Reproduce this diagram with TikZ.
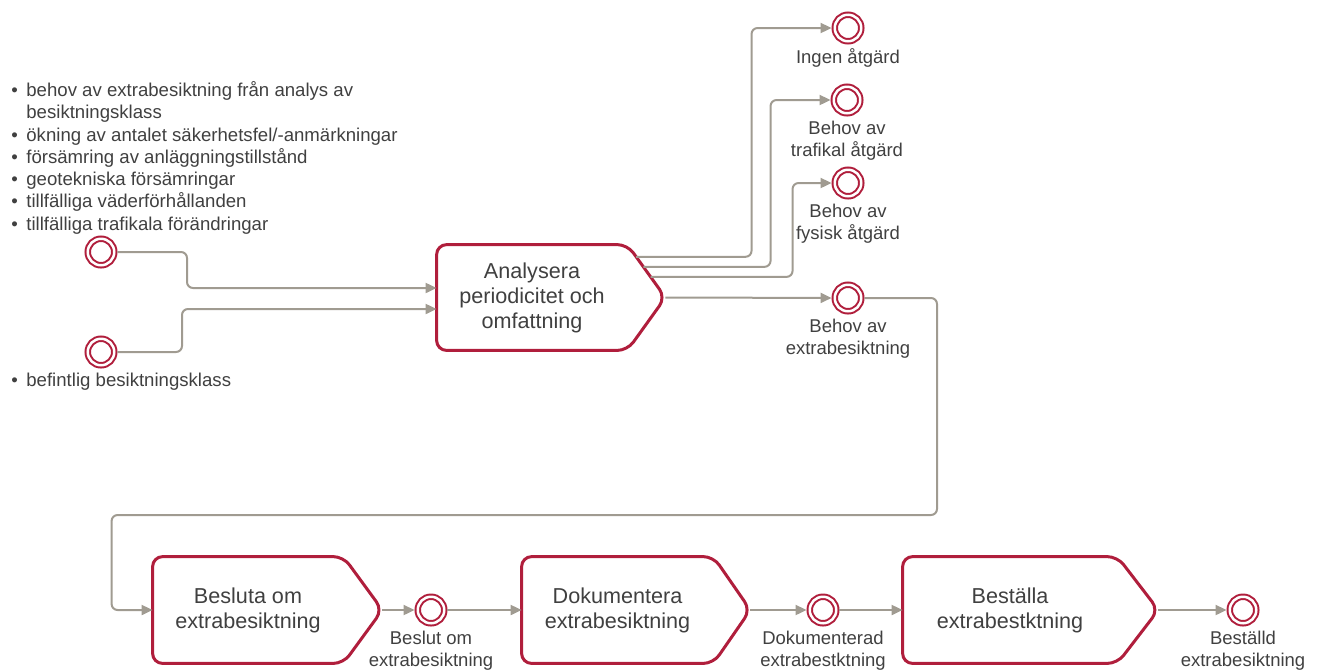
\documentclass[tikz,border=0pt]{standalone}
\usepackage{fontspec}
\setmainfont{Liberation Sans}
\usetikzlibrary{positioning, calc, arrows.meta}
\definecolor{procred}{HTML}{B01E3C}
\definecolor{flowgray}{HTML}{A09B91}
\definecolor{txtgray}{HTML}{404040}
\tikzset{
  x=0.5pt, y=-0.5pt,
  >={Triangle[length=5.5pt,width=5pt]},
  proc/.style={minimum height=52.5pt, inner sep=0pt, align=center,
    text=txtgray, font=\fontsize{10.8}{12.5}\selectfont},
  procline/.style={draw=procred, line width=1.5pt, rounded corners=5pt},
  event/.style={circle, draw=procred, double=white, double distance=1.25pt,
    line width=1pt, minimum size=13.25pt, inner sep=0pt, outer sep=1.6pt},
  evlabel/.style={align=center, text=txtgray, inner sep=0pt,
    font=\fontsize{9.25}{11}\selectfont},
  notes/.style={align=left, text=txtgray, inner sep=0pt,
    font=\fontsize{9.3}{11.15}\selectfont},
  flow/.style={->, draw=flowgray, line width=1pt, rounded corners=3pt},
}

\begin{document}
\begin{tikzpicture}
        \useasboundingbox (0,0) rectangle (1320,671);

        % notes
        \node[notes, anchor=north west] (notes1) at (11,81)
          {\makebox[7.5pt][l]{\textbullet}behov av extrabesiktning från analys av\\
           \makebox[7.5pt][l]{}besiktningsklass\\
           \makebox[7.5pt][l]{\textbullet}ökning av antalet säkerhetsfel/-anmärkningar\\
           \makebox[7.5pt][l]{\textbullet}försämring av anläggningstillstånd\\
           \makebox[7.5pt][l]{\textbullet}geotekniska försämringar\\
           \makebox[7.5pt][l]{\textbullet}tillfälliga väderförhållanden\\
           \makebox[7.5pt][l]{\textbullet}tillfälliga trafikala förändringar};
        \node[notes, anchor=west] (notes2) at (11,382)
          {\makebox[7.5pt][l]{\textbullet}befintlig besiktningsklass};

        % processes
        \node[proc, minimum width=95pt] (analys) at (532,297.5) {Analysera\\periodicitet och\\omfattning};
        \node[proc, minimum width=95pt, minimum height=53pt] (besluta) at (248,610) {Besluta om\\extrabesiktning};
        \node[proc, minimum width=95.5pt, minimum height=53pt] (dokument) at (617.5,610) {Dokumentera\\extrabesiktning};
        \node[proc, minimum width=107pt, minimum height=53pt] (bestall) at (1010,610) {Beställa\\extrabestktning};
        \foreach \p/\t in {analys/19pt, besluta/19.5pt, dokument/18.5pt, bestall/20.5pt}
          \draw[procline] (\p.north west) -- (\p.north east)
            -- ([xshift=\t]\p.east) coordinate (\p-tip)
            -- (\p.south east) -- (\p.south west) -- cycle;

        % events
        \node[event] (start1) at (101,252) {};
        \node[event] (start2) at (101,352) {};
        \node[event] (ingen) at (848,28) {};
        \node[event] (trafik) at (847,100) {};
        \node[event] (fysisk) at (848,183) {};
        \node[event] (extra) at (848,298) {};
        \node[event] (beslut) at (431,610) {};
        \node[event] (dokumenterad) at (823,610) {};
        \node[event] (bestalld) at (1243,610) {};

        % event labels
        \node[evlabel, below=2pt of ingen] {Ingen åtgärd};
        \node[evlabel, below=2pt of trafik] {Behov av\\trafikal åtgärd};
        \node[evlabel, below=2pt of fysisk] {Behov av\\fysisk åtgärd};
        \node[evlabel, below=2pt of extra] {Behov av\\extrabesiktning};
        \node[evlabel, below=2pt of beslut] {Beslut om\\extrabesiktning};
        \node[evlabel, below=2pt of dokumenterad] {Dokumenterad\\extrabestktning};
        \node[evlabel, below=2pt of bestalld] {Beställd\\extrabesiktning};

        % flows
        \draw[flow] (start1) -- ++(86,0) |- ([yshift=4.75pt]analys.west);
        \draw[flow] (start2) -- ++(81,0) |- ([yshift=-5.75pt]analys.west);
        \draw[flow] ($(analys.north east)!0.23!(analys-tip)$) -| ([xshift=-40pt]ingen.west) -- (ingen);
        \draw[flow] ($(analys.north east)!0.42!(analys-tip)$) -| ([xshift=-30pt]trafik.west) -- (trafik);
        \draw[flow] ($(analys.north east)!0.61!(analys-tip)$) -| ([xshift=-19.5pt]fysisk.west) -- (fysisk);
        \draw[flow] (analys-tip) -- (extra);
        \draw[flow] (extra) -| (937,515) -| ([xshift=-20.5pt]besluta.west) -- (besluta.west);
        \draw[flow] (besluta-tip) -- (beslut);
        \draw[flow] (beslut) -- (dokument.west);
        \draw[flow] (dokument-tip) -- (dokumenterad);
        \draw[flow] (dokumenterad) -- (bestall.west);
        \draw[flow] (bestall-tip) -- (bestalld);

\end{tikzpicture}
\end{document}
